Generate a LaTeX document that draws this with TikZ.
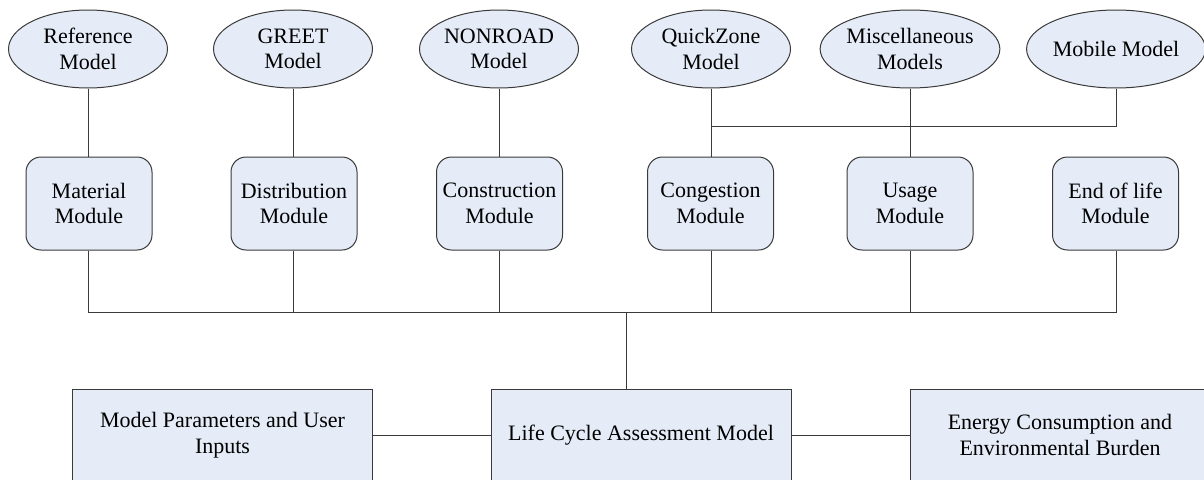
\documentclass[tikz,border=0pt]{standalone}
\usepackage{fontspec}
\setmainfont{Liberation Serif}
\usetikzlibrary{shapes.geometric}
\definecolor{boxfill}{HTML}{E5ECF7}
\definecolor{edge}{HTML}{3A3A3A}
\tikzset{
  txt/.style={font=\fontsize{22}{25.5}\selectfont, align=center, text=black},
  modelell/.style={txt, ellipse, draw=edge, line width=1pt, fill=boxfill, minimum width=159pt, minimum height=78pt, inner sep=0pt},
  modbox/.style={txt, rectangle, rounded corners=15pt, draw=edge, line width=1pt, fill=boxfill, minimum width=126pt, minimum height=93pt, inner sep=0pt},
  bigbox/.style={txt, rectangle, draw=edge, line width=1pt, fill=boxfill, minimum width=300pt, minimum height=92pt, inner sep=0pt},
  conn/.style={draw=edge, line width=1pt}
}
\begin{document}
\begin{tikzpicture}[x=1pt, y=-1pt]
\clip (0,0) rectangle (1204,479);
\fill[white] (0,0) rectangle (1204,479);
% ellipses
\node[modelell] (refm) at (88,49) {Reference\\Model};
\node[modelell] (greet) at (293,49) {GREET\\Model};
\node[modelell] (nonroad) at (499,49) {NONROAD\\Model};
\node[modelell] (quick) at (711,49) {QuickZone\\Model};
\node[modelell] (misc) at (910,49) {Miscellaneous\\Models};
\node[modelell] (mobile) at (1116,49) {Mobile Model};
% modules
\node[modbox] (mat) at (89,203.5) {Material\\Module};
\node[modbox] (dist) at (294,203.5) {Distribution\\Module};
\node[modbox] (cons) at (499.5,203.5) {Construction\\Module};
\node[modbox] (cong) at (710.5,203.5) {Congestion\\Module};
\node[modbox] (usage) at (910,203.5) {Usage\\Module};
\node[modbox] (endl) at (1115.5,203.5) {End of life\\Module};
% bottom boxes
\node[bigbox] (params) at (222.5,435) {Model Parameters and User\\Inputs};
\node[bigbox] (lca) at (641,435) {Life Cycle Assessment Model};
\node[bigbox] (energy) at (1060,435) {Energy Consumption and\\Environmental Burden};
% connectors top
\draw[conn] (refm.south) -- (refm.south |- mat.north);
\draw[conn] (greet.south) -- (greet.south |- dist.north);
\draw[conn] (nonroad.south) -- (nonroad.south |- cons.north);
\draw[conn] (quick.south) -- (quick.south |- cong.north);
\draw[conn] (misc.south) -- (misc.south |- usage.north);
\coordinate (mj) at (711,126);
\draw[conn] (mobile.south) |- (mj);
% bus
\coordinate (t) at (626,312);
\draw[conn] (mat.south -| refm.south) |- (t);
\draw[conn] (endl.south -| mobile.south) |- (t);
\draw[conn] (dist.south -| greet.south) -- (greet.south |- t);
\draw[conn] (cons.south -| nonroad.south) -- (nonroad.south |- t);
\draw[conn] (cong.south -| quick.south) -- (quick.south |- t);
\draw[conn] (usage.south) -- (usage.south |- t);
\draw[conn] (t) -- (t |- lca.north);
% bottom connectors
\draw[conn] (params.east) -- (lca.west);
\draw[conn] (lca.east) -- (energy.west);
\end{tikzpicture}
\end{document}
